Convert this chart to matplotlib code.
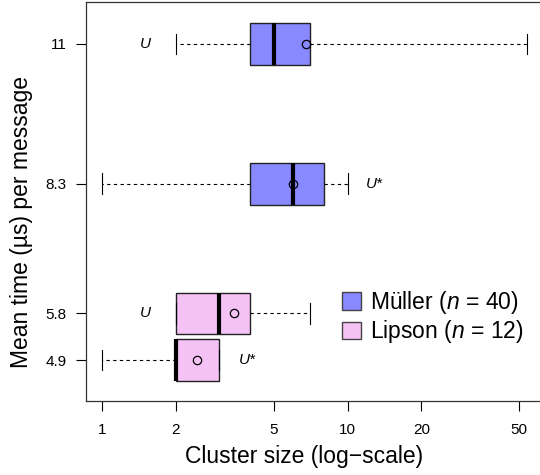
import numpy as np
import matplotlib.pyplot as plt
from matplotlib.patches import Patch

plt.rcParams['font.family'] = ['Liberation Sans', 'DejaVu Sans']
plt.rcParams['mathtext.fontset'] = 'custom'
plt.rcParams['mathtext.rm'] = 'Liberation Sans'
plt.rcParams['mathtext.it'] = 'Liberation Sans:italic'

# one box per row, bottom to top
positions = [4.9, 5.8, 8.3, 11]
tick_labels = ['4.9', '5.8', '8.3', '11']
groups = ['Lipson', 'Lipson', 'Müller', 'Müller']
whislo = [1, 2, 1, 2]
q1 = [2, 2, 4, 4]
med = [2, 3, 6, 5]
q3 = [3, 4, 8, 7]
whishi = [3, 7, 10, 54]
means = [2.43, 3.46, 6.0, 6.75]
tags = ['U*', 'U', 'U*', 'U']
tag_x = [3.9, 1.5, 12.9, 1.5]

colors = {'Müller': '#8888ff', 'Lipson': '#f4c2f4'}
legend_labels = ['Müller ($n$ = 40)', 'Lipson ($n$ = 12)']

fig = plt.figure(figsize=(5.4, 4.75), dpi=100)
ax = fig.add_axes([86/540, 74/475, 460/540, 399/475])

stats = []
for i in range(len(positions)):
    stats.append(dict(whislo=whislo[i], q1=q1[i], med=med[i], q3=q3[i],
                      whishi=whishi[i], mean=means[i], fliers=[]))

bp = ax.bxp(stats, positions=positions, orientation='horizontal', widths=0.8,
            capwidths=0.4, showmeans=True, patch_artist=True,
            boxprops=dict(edgecolor='#222222', linewidth=1),
            medianprops=dict(color='black', linewidth=3, solid_capstyle='butt'),
            whiskerprops=dict(color='black', linewidth=0.8, linestyle=(0, (3, 3))),
            capprops=dict(color='black', linewidth=0.8),
            meanprops=dict(marker='o', markerfacecolor='none',
                           markeredgecolor='black', markersize=6, markeredgewidth=0.9))
for patch, g in zip(bp['boxes'], groups):
    patch.set_facecolor(colors[g])

for y, t, tx in zip(positions, tags, tag_x):
    ax.text(tx, y, t, style='italic', fontsize=11, va='center', ha='center')

ax.set_xscale('log')
ax.set_xlim(0.86, 64.3)
ax.set_ylim(4.109, 11.81)
ax.set_xticks([1, 2, 5, 10, 20, 50])
ax.set_xticklabels(['1', '2', '5', '10', '20', '50'])
ax.xaxis.set_minor_locator(plt.NullLocator())
ax.set_yticks(positions)
ax.set_yticklabels(tick_labels)
ax.tick_params(axis='both', length=7, width=0.8, labelsize=11, colors='black')
ax.tick_params(axis='x', pad=9)
ax.tick_params(axis='y', pad=7)
for s in ax.spines.values():
    s.set_linewidth(0.9)
    s.set_color('#333333')

handles = [Patch(facecolor=colors['Müller'], edgecolor='#444444'),
           Patch(facecolor=colors['Lipson'], edgecolor='#444444')]
ax.legend(handles, legend_labels, loc='center left', bbox_to_anchor=(0.557, 0.21),
          frameon=False, fontsize=16.5, handlelength=0.8, handleheight=0.8,
          handletextpad=0.4, labelspacing=0.1, borderaxespad=0, borderpad=0)

fig.text(304/540, 1 - 457/475, 'Cluster size (log\u2212scale)', fontsize=16.5,
         ha='center', va='center')
fig.text(22/540, 1 - 222/475, 'Mean time (\u00b5s) per message', fontsize=16.5,
         rotation=90, ha='center', va='center')

fig.savefig('out.png', dpi=100)
